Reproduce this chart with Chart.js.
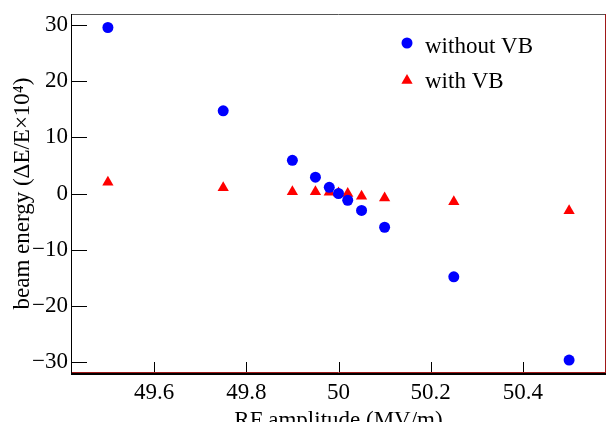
<!DOCTYPE html>
<html>
<head>
<meta charset="utf-8">
<script src="https://cdn.jsdelivr.net/npm/chart.js@4/dist/chart.umd.min.js"></script>
<style>
  html, body { margin: 0; padding: 0; background: #fff; overflow: hidden; }
  #wrap { width: 608px; height: 435px; position: relative; }
</style>
</head>
<body>
<div id="wrap"><canvas id="chart"></canvas></div>
<script>
// RF amplitude (MV/m) scan points
const rfAmplitude = [49.5, 49.75, 49.9, 49.95, 49.98, 50, 50.02, 50.05, 50.1, 50.25, 50.5];
// beam energy deviation (dE/E x 10^4)
const energyWithoutVB = [29.5, 14.7, 5.9, 2.9, 1.1, 0, -1.2, -3.0, -6.0, -14.8, -29.6];
const energyWithVB = [2.0, 1.0, 0.3, 0.3, 0.2, 0.1, 0.0, -0.5, -0.8, -1.45, -3.05];
const seriesLabels = ['without VB', 'with VB'];

const serif = "'Liberation Serif', 'Times New Roman', serif";
Chart.defaults.font.family = serif;
Chart.defaults.color = '#000';

function toPoints(ys) {
  return rfAmplitude.map((x, i) => ({ x, y: ys[i] }));
}

function fmtTick(v) {
  const s = String(Number(v.toFixed(1)));
  return v < 0 ? '\u2212' + s.slice(1) : s;
}

// ROOT style: ticks pointing inward, coloured frame, legend inside the pad
const rootFrame = {
  id: 'rootFrame',
  beforeDatasetsDraw(chart) {
    const { ctx, chartArea: a, scales: { x, y } } = chart;
    ctx.save();
    ctx.strokeStyle = '#000';
    ctx.lineWidth = 1;
    ctx.beginPath();
    x.ticks.forEach(t => {
      const px = Math.round(x.getPixelForValue(t.value)) + 0.5;
      ctx.moveTo(px, a.bottom);
      ctx.lineTo(px, a.bottom - 11);
    });
    y.ticks.forEach(t => {
      const py = Math.round(y.getPixelForValue(t.value)) + 0.5;
      ctx.moveTo(a.left, py);
      ctx.lineTo(a.left + 16, py);
    });
    ctx.stroke();
    ctx.restore();
  },
  afterDraw(chart) {
    const { ctx, chartArea: a } = chart;
    ctx.save();
    ctx.lineWidth = 1;
    // top
    ctx.strokeStyle = '#555';
    ctx.beginPath();
    ctx.moveTo(a.left, a.top + 0.5);
    ctx.lineTo(a.right, a.top + 0.5);
    ctx.stroke();
    // right and inner bottom (red)
    ctx.strokeStyle = '#a01818';
    ctx.beginPath();
    ctx.moveTo(a.right - 0.5, a.top);
    ctx.lineTo(a.right - 0.5, a.bottom);
    ctx.moveTo(a.left, a.bottom - 0.5);
    ctx.lineTo(a.right, a.bottom - 0.5);
    ctx.stroke();
    // axes
    ctx.strokeStyle = '#000';
    ctx.beginPath();
    ctx.moveTo(a.left + 0.5, a.top);
    ctx.lineTo(a.left + 0.5, a.bottom + 1);
    ctx.stroke();
    ctx.lineWidth = 2;
    ctx.beginPath();
    ctx.moveTo(a.left, a.bottom + 1);
    ctx.lineTo(a.right, a.bottom + 1);
    ctx.stroke();

    // legend
    ctx.font = '23px ' + serif;
    ctx.textBaseline = 'middle';
    ctx.textAlign = 'left';
    chart.data.datasets.forEach((ds, i) => {
      const mx = a.left + 336;
      const my = a.top + 29 + i * 36 + (ds.pointStyle === 'triangle' ? 1.5 : 0);
      ctx.fillStyle = ds.backgroundColor;
      Chart.helpers.drawPoint(ctx, { pointStyle: ds.pointStyle, radius: ds.pointRadius, borderWidth: 0 }, mx, my);
      ctx.fillStyle = '#000';
      ctx.fillText(ds.label, a.left + 354, a.top + 33 + i * 35);
    });
    ctx.restore();
  }
};

new Chart(document.getElementById('chart'), {
  type: 'scatter',
  data: {
    datasets: [
      {
        label: seriesLabels[0],
        data: toPoints(energyWithoutVB),
        pointStyle: 'circle',
        pointRadius: 5.5,
        pointHoverRadius: 5.5,
        pointBorderWidth: 0,
        borderWidth: 0,
        backgroundColor: '#0000ff'
      },
      {
        label: seriesLabels[1],
        data: toPoints(energyWithVB),
        pointStyle: 'triangle',
        pointRadius: 6.5,
        pointHoverRadius: 6.5,
        pointBorderWidth: 0,
        borderWidth: 0,
        backgroundColor: '#ff0000'
      }
    ]
  },
  options: {
    responsive: true,
    maintainAspectRatio: false,
    animation: false,
    layout: { autoPadding: false, padding: { left: 0, right: 2, top: 14, bottom: 0 } },
    plugins: {
      legend: { display: false },
      tooltip: { enabled: false }
    },
    scales: {
      x: {
        type: 'linear',
        min: 49.42,
        max: 50.58,
        border: { display: false },
        grid: { display: false, drawTicks: false },
        ticks: {
          stepSize: 0.2,
          includeBounds: false,
          autoSkip: false,
          maxRotation: 0,
          padding: 6,
          color: '#000',
          font: { size: 23 },
          callback: v => fmtTick(v)
        },
        title: {
          display: true,
          text: 'RF amplitude (MV/m)',
          color: '#000',
          font: { size: 23 },
          padding: { top: 0, bottom: 0 }
        },
        afterFit(scale) {
          scale.height = 62;
          scale.paddingLeft = 0;
          scale.paddingRight = 0;
        }
      },
      y: {
        type: 'linear',
        min: -31.9,
        max: 31.9,
        border: { display: false },
        grid: { display: false, drawTicks: false },
        ticks: {
          stepSize: 10,
          includeBounds: false,
          padding: 3,
          color: '#000',
          font: { size: 23 },
          callback: v => fmtTick(v)
        },
        title: {
          display: true,
          text: 'beam energy (\u0394E/E\u00d710\u2074)',
          color: '#000',
          font: { size: 23 },
          padding: { top: 9, bottom: 0 }
        },
        afterFit(scale) {
          scale.width = 71;
          scale.paddingTop = 0;
          scale.paddingBottom = 0;
        }
      }
    }
  },
  plugins: [rootFrame]
});
</script>
</body>
</html>
